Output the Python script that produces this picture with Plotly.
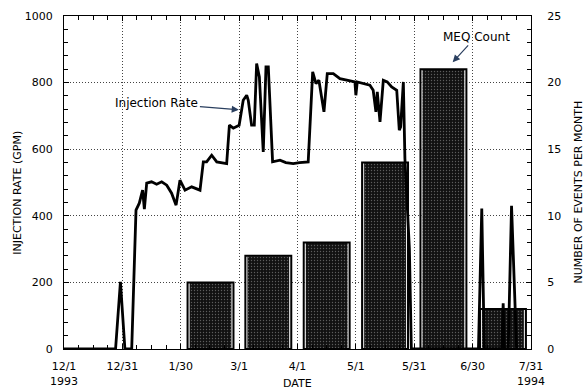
import plotly.graph_objects as go

# ---- data ----
# x values are days after 12/1/1993
tick_days = [0, 30, 60, 90, 120, 150, 180, 210, 240]
tick_labels = ["12/1<br>1993", "12/31", "1/30", "3/1", "4/1", "5/1", "5/31", "6/30", "7/31<br>1994"]

rate_days = [0, 26.5, 29.0, 31.3, 34.8, 37.0, 38.7, 40.4, 41.3, 42.5, 45.0, 47.6, 50.2, 52.8,
             55.3, 57.6, 59.6, 62.2, 65.6, 69.9, 71.6, 73.3, 75.9, 78.5, 83.6, 85.0, 87.0,
             90.0, 92.1, 93.9, 94.7, 96.4, 97.8, 99.0, 100.4, 102.4, 103.8, 105.0, 107.2,
             111.0, 114.0, 117.8, 121.0, 125.5, 127.8, 129.5, 131.0, 133.6, 135.3, 138.4,
             141.8, 147.0, 149.5, 150.0, 150.7, 157.2, 158.9, 160.3, 161.0, 162.4, 164.1,
             166.1, 168.4, 171.0, 172.3, 173.0, 174.4, 175.2, 176.0, 177.5, 178.5,
             213.0, 214.7, 216.0, 225.0, 225.7, 226.3, 228.3, 230.0, 232.6]
rate_gpm = [0, 0, 202, 0, 0, 417, 438, 477, 420, 498, 502, 495, 502, 492,
            468, 432, 507, 477, 487, 477, 562, 562, 582, 562, 557, 672, 663,
            672, 747, 762, 747, 672, 672, 857, 817, 592, 847, 847, 562,
            567, 560, 557, 560, 562, 832, 797, 807, 712, 827, 827,
            812, 805, 802, 762, 802, 792, 777, 712, 772, 682, 807,
            802, 787, 777, 657, 667, 802, 572, 487, 300, 0,
            0, 422, 0, 0, 137, 0, 0, 430, 0]

meq_days = [75.3, 105.0, 135.0, 165.0, 195.0, 225.6]
meq_count = [5, 7, 8, 14, 21, 3]

FONT = "DejaVu Sans"

fig = go.Figure()

# speckled interior with a thin light rim
fig.add_trace(go.Bar(
    x=meq_days, y=meq_count, width=22.0, yaxis="y",
    marker=dict(color="#111111",
                line=dict(color="#f0f0f0", width=1),
                pattern=dict(shape=".", fgcolor="#a8a8a8", size=3, solidity=0.17,
                             fillmode="overlay")),
    showlegend=False, hoverinfo="x+y"))
# outer black frame of each bar
fig.add_trace(go.Bar(
    x=meq_days, y=meq_count, width=23.6, yaxis="y",
    marker=dict(color="rgba(0,0,0,0)", line=dict(color="#000000", width=2)),
    showlegend=False, hoverinfo="skip"))

fig.add_trace(go.Scatter(
    x=rate_days, y=rate_gpm, yaxis="y2", mode="lines",
    line=dict(color="black", width=2.8), showlegend=False))

axis_common = dict(showline=True, linecolor="black", linewidth=1.3, ticks="inside",
                   tickcolor="black", ticklen=5, zeroline=False, automargin=False,
                   tickfont=dict(family=FONT, size=11, color="black"))
GRID = dict(showgrid=True, gridcolor="#444444", griddash="1px,2px", gridwidth=1)

fig.update_layout(
    width=587, height=391,
    margin=dict(l=64, r=56, t=16, b=42),
    plot_bgcolor="white", paper_bgcolor="white",
    barmode="overlay",
    xaxis=dict(range=[0, 240], tickvals=tick_days, ticktext=tick_labels,
               mirror="ticks", ticklabelstandoff=7,
               minor=dict(dtick=7.5, tick0=0, ticks="inside", ticklen=4, tickcolor="black",
                          showgrid=False),
               **GRID, **axis_common),
    yaxis=dict(side="right", range=[0, 25], tickvals=[0, 5, 10, 15, 20, 25],
               ticklabelstandoff=13,
               minor=dict(dtick=1, ticks="inside", ticklen=4, tickcolor="black",
                          showgrid=False),
               **GRID, **axis_common),
    yaxis2=dict(side="left", overlaying="y", range=[0, 1000],
                tickvals=[0, 200, 400, 600, 800, 1000], showgrid=False,
                ticklabelstandoff=8,
                minor=dict(dtick=40, ticks="inside", ticklen=4, tickcolor="black",
                           showgrid=False),
                **axis_common),
)

fig.add_annotation(text="DATE", xref="paper", yref="paper", x=0.5, y=-0.105,
                   showarrow=False, yanchor="middle",
                   font=dict(family=FONT, size=11, color="black"))
fig.add_annotation(text="INJECTION RATE (GPM)", xref="paper", yref="paper",
                   x=-0.1, y=0.47, textangle=-90, showarrow=False,
                   xanchor="center", yanchor="middle",
                   font=dict(family=FONT, size=11, color="black"))
fig.add_annotation(text="NUMBER OF EVENTS PER MONTH", xref="paper", yref="paper",
                   x=1.0, xshift=47, y=0.47, textangle=-90, showarrow=False,
                   xanchor="center", yanchor="middle",
                   font=dict(family=FONT, size=11, color="black"))
# callouts
fig.add_annotation(text="Injection Rate", x=90.4, y=718, xref="x", yref="y2",
                   ax=-83, ay=-7, showarrow=True, arrowhead=2, arrowsize=1.2,
                   arrowwidth=1.2, standoff=1,
                   font=dict(family=FONT, size=12, color="black"))
fig.add_annotation(text="MEQ Count", x=199.4, y=859, xref="x", yref="y2",
                   ax=24, ay=-26, showarrow=True, arrowhead=2, arrowsize=1.2,
                   arrowwidth=1.2, standoff=1,
                   font=dict(family=FONT, size=12, color="black"))

fig.write_html("out.html")
